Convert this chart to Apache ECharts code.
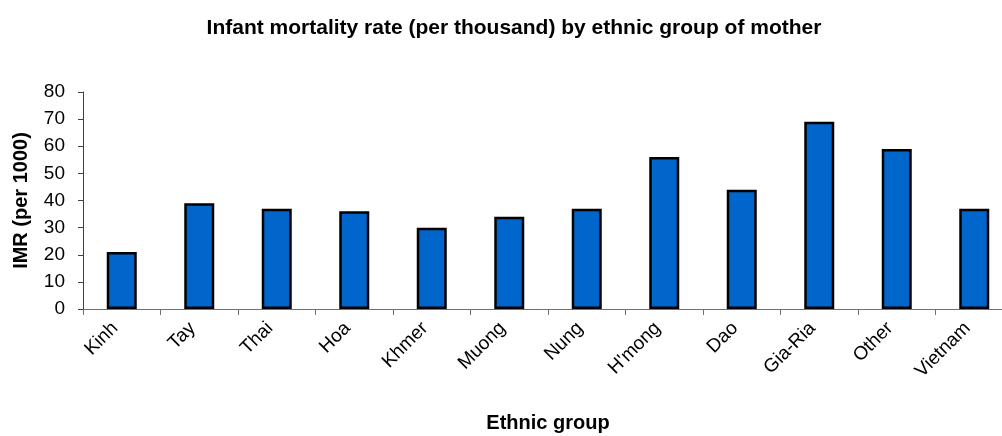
<!DOCTYPE html>
<html>
<head>
<meta charset="utf-8">
<script src="https://cdn.jsdelivr.net/npm/echarts@6/dist/echarts.min.js"></script>
<style>
  html, body { margin: 0; padding: 0; background: #ffffff; }
  #chart { width: 1002px; height: 436px; }
</style>
</head>
<body>
<div id="chart"></div>
<script>
// Infant mortality rate per 1000 births, by ethnic group of the mother
const groups = ['Kinh', 'Tay', 'Thai', 'Hoa', 'Khmer', 'Muong', 'Nung', "H'mong", 'Dao', 'Gia-Ria', 'Other', 'Vietnam'];
const imr = [21, 39, 37, 36, 30, 34, 37, 56, 44, 69, 59, 37];
const yTicks = [0, 10, 20, 30, 40, 50, 60, 70, 80];

const FONT = '"Liberation Sans", Arial, sans-serif';

const chart = echarts.init(document.getElementById('chart'), null, { renderer: 'canvas' });

chart.setOption({
  animation: false,
  backgroundColor: '#ffffff',
  title: {
    text: 'Infant mortality rate (per thousand) by ethnic group of mother',
    left: 509,
    top: 13,
    textAlign: 'center',
    textStyle: { fontFamily: FONT, fontSize: 21, fontWeight: 'bold', color: '#000' }
  },
  grid: {
    left: 83,
    right: -11,
    top: 92,
    bottom: 127,
    containLabel: false,
    outerBoundsMode: 'none'
  },
  xAxis: {
    type: 'category',
    data: groups,
    boundaryGap: true,
    name: 'Ethnic group',
    nameLocation: 'middle',
    nameGap: 104,
    nameTextStyle: { fontFamily: FONT, fontSize: 20, fontWeight: 'bold', color: '#000' },
    axisLine: { show: true, lineStyle: { color: '#707070', width: 1 } },
    axisTick: { show: true, alignWithLabel: false, length: 6, lineStyle: { color: '#707070' } },
    axisLabel: {
      rotate: 45,
      margin: 23,
      interval: 0,
      verticalAlign: 'bottom',
      fontFamily: FONT,
      fontSize: 19,
      color: '#000'
    },
    splitLine: { show: false }
  },
  yAxis: {
    type: 'value',
    min: yTicks[0],
    max: yTicks[yTicks.length - 1],
    interval: 10,
    name: 'IMR (per 1000)',
    nameLocation: 'middle',
    nameGap: 52,
    nameRotate: 90,
    nameTextStyle: { fontFamily: FONT, fontSize: 20, fontWeight: 'bold', color: '#000' },
    axisLine: { show: true, lineStyle: { color: '#404040', width: 1 } },
    axisTick: { show: true, inside: false, length: 5, lineStyle: { color: '#404040' } },
    axisLabel: { margin: 18, fontFamily: FONT, fontSize: 19, color: '#000' },
    splitLine: { show: false }
  },
  series: [{
    type: 'bar',
    data: imr,
    barWidth: 30,
    itemStyle: { color: '#0066CC', borderColor: '#000000', borderWidth: 2.5 },
    emphasis: { disabled: true }
  }]
});
</script>
</body>
</html>
